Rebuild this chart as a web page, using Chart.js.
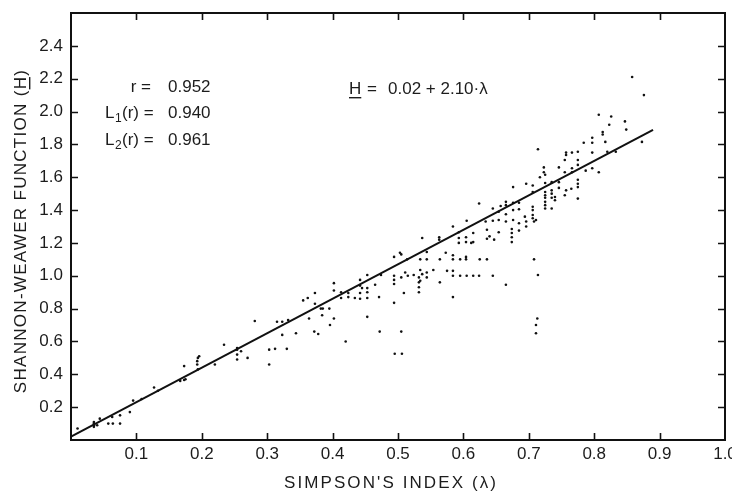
<!DOCTYPE html>
<html><head><meta charset="utf-8">
<script src="https://cdn.jsdelivr.net/npm/chart.js@4"></script>
<style>html,body{margin:0;padding:0;background:#fff}#wrap{width:732px;height:492px}</style>
</head><body><div id="wrap"><canvas id="c" width="732" height="492"></canvas></div>
<script>
// Simpson's index (lambda) and Shannon-Weaver H values
const lambdaValues = [
 0.01,0.035,0.035,0.035,0.035,0.04,0.044,0.057,0.064,0.063,0.075,0.075,0.09,0.095,0.108,0.127,0.133,
 0.167,0.173,0.175,0.173,0.193,0.193,0.194,0.196,0.194,0.22,0.234,0.254,0.254,0.254,0.26,0.254,0.27,
 0.281,0.303,0.303,0.312,0.315,
 0.323,0.332,0.323,0.33,0.344,0.355,0.362,0.373,0.373,0.364,0.372,0.378,0.382,0.385,0.384,0.395,0.396,
 0.402,0.402,0.402,0.413,0.413,0.424,0.424,0.42,0.434,0.442,0.442,0.442,0.442,0.445,0.453,0.453,0.453,0.453,
 0.453,0.465,0.471,0.472,0.474,0.494,0.494,0.494,0.494,0.494,0.503,0.505,0.505,0.495,0.506,0.509,
 0.505,0.511,0.515,0.524,0.532,0.532,0.532,0.532,
 0.514,0.534,0.534,0.534,0.537,0.537,0.544,0.544,0.544,0.544,0.554,0.563,0.563,0.564,0.564,0.573,0.575,
 0.584,0.584,0.584,0.584,0.584,0.584,0.593,0.593,0.593,0.595,0.595,0.604,0.604,0.604,0.604,0.605,0.605,
 0.612,0.615,0.615,0.615,0.624,0.624,0.625,0.636,0.634,0.636,0.636,0.64,0.647,0.645,0.645,0.645,
 0.654,0.654,0.654,0.657,0.665,0.665,0.665,0.665,0.665,0.674,0.674,0.674,0.674,0.676,0.676,0.676,0.676,
 0.685,0.685,0.685,0.685,0.694,0.696,0.696,0.696,
 0.714,0.706,0.706,0.706,0.706,0.706,0.706,0.708,0.711,0.708,0.714,0.713,0.711,0.711,0.717,
 0.723,0.723,0.725,0.725,0.725,0.725,0.725,0.725,0.725,0.725,0.735,0.735,0.735,0.735,0.735,0.74,0.74,
 0.746,0.746,0.746,0.755,0.757,0.757,0.755,0.755,0.757,0.766,0.766,0.766,0.765,
 0.775,0.775,0.775,0.775,0.775,0.775,0.775,0.784,0.787,0.797,0.797,0.797,0.797,0.807,0.807,
 0.813,0.813,0.817,0.82,0.823,0.858,0.876,0.826,0.847,0.849,0.833,0.873
];
const hValues = [
 0.07,0.08,0.09,0.10,0.11,0.09,0.13,0.10,0.10,0.14,0.15,0.10,0.17,0.24,0.25,0.32,0.30,
 0.36,0.365,0.37,0.45,0.48,0.46,0.50,0.51,0.43,0.46,0.58,0.55,0.52,0.49,0.54,0.56,0.50,
 0.725,0.55,0.46,0.555,0.72,
 0.72,0.73,0.64,0.555,0.65,0.85,0.865,0.895,0.83,0.74,0.66,0.645,0.80,0.80,0.76,0.80,0.70,
 0.955,0.91,0.74,0.90,0.865,0.895,0.87,0.60,0.865,0.975,0.94,0.895,0.86,0.925,1.005,0.925,0.90,0.865,
 0.75,0.945,0.87,0.66,1.005,1.115,1.0,0.975,0.95,0.835,1.14,1.13,0.66,0.525,0.525,0.895,
 0.99,1.02,1.0,1.005,0.99,0.96,0.93,0.90,
 1.10,1.10,1.035,0.97,1.23,1.01,1.02,0.99,1.145,1.10,1.035,1.235,1.22,1.10,0.96,1.14,1.03,
 1.30,1.125,1.10,1.03,1.0,0.87,1.265,1.23,1.20,1.0,1.10,1.235,1.205,1.115,1.10,1.0,1.335,
 1.20,1.205,1.26,1.0,1.0,1.44,1.10,1.10,1.33,1.28,1.225,1.24,1.22,1.0,1.41,1.335,
 1.39,1.34,1.265,1.425,1.45,1.43,1.375,1.33,0.945,1.285,1.26,1.235,1.205,1.54,1.445,1.40,1.34,
 1.445,1.405,1.32,1.275,1.36,1.33,1.30,1.56,
 1.77,1.55,1.51,1.42,1.40,1.37,1.35,1.33,1.34,1.10,1.005,0.74,0.70,0.65,1.60,
 1.66,1.63,1.615,1.565,1.51,1.49,1.475,1.45,1.43,1.41,1.57,1.52,1.50,1.475,1.41,1.48,1.46,
 1.535,1.57,1.66,1.705,1.75,1.735,1.63,1.49,1.52,1.75,1.655,1.63,1.53,
 1.755,1.705,1.675,1.585,1.56,1.54,1.47,1.81,1.64,1.84,1.81,1.75,1.655,1.98,1.63,
 1.875,1.86,1.815,1.755,1.92,2.21,2.10,1.97,1.94,1.89,1.755,1.815
];
// fitted line H = 0.02 + 2.10*lambda, end points as drawn
const fitLambda = [0.0, 0.89];
const fitH = [0.02, 1.889];
const xTicks = [0.1,0.2,0.3,0.4,0.5,0.6,0.7,0.8,0.9,1.0];
const yTicks = [0.2,0.4,0.6,0.8,1.0,1.2,1.4,1.6,1.8,2.0,2.2,2.4];
const xTitle = "SIMPSON'S INDEX (\u03BB)";
const yTitle = "SHANNON-WEAWER FUNCTION (H)";
const statLabels = ["r =", "L", "L"];
const statValues = ["0.952", "0.940", "0.961"];
const equationText = "0.02 + 2.10\u00B7\u03BB";

const FONT = '"Liberation Sans", Arial, sans-serif';
const INK = '#1c1c1c';

const decor = {
  id: 'decor',
  afterDraw(chart) {
    const ctx = chart.ctx, ca = chart.chartArea;
    const xs = chart.scales.x, ys = chart.scales.y;
    ctx.save();
    ctx.strokeStyle = '#111';
    ctx.lineWidth = 2;
    ctx.strokeRect(ca.left, ca.top, ca.right - ca.left, ca.bottom - ca.top);
    ctx.lineWidth = 1.6;
    ctx.beginPath();
    xTicks.forEach(v => {
      if (v >= 1.0) return;
      const px = Math.round(xs.getPixelForValue(v)) + 0.5;
      ctx.moveTo(px, ca.bottom); ctx.lineTo(px, ca.bottom - 7);
      ctx.moveTo(px, ca.top); ctx.lineTo(px, ca.top + 7);
    });
    yTicks.forEach(v => {
      const py = Math.round(ys.getPixelForValue(v)) + 0.5;
      ctx.moveTo(ca.left, py); ctx.lineTo(ca.left + 7, py);
      ctx.moveTo(ca.right, py); ctx.lineTo(ca.right - 7, py);
    });
    ctx.stroke();

    ctx.fillStyle = INK;
    // x title
    ctx.font = '17px ' + FONT;
    ctx.letterSpacing = '2.1px';
    ctx.textAlign = 'center';
    ctx.textBaseline = 'middle';
    ctx.fillText(xTitle, 391, 483);
    // y title (rotated)
    ctx.save();
    ctx.translate(21, 231);
    ctx.rotate(-Math.PI / 2);
    ctx.letterSpacing = '1.3px';
    ctx.textAlign = 'left';
    const w = ctx.measureText(yTitle).width;
    const x0 = -w / 2;
    ctx.fillText(yTitle, x0, 0);
    const pre = ctx.measureText(yTitle.slice(0, yTitle.length - 2)).width;
    const hw = ctx.measureText('H').width - 1.3;
    ctx.fillRect(x0 + pre, 8, hw, 1.4);
    ctx.restore();

    // statistics
    ctx.letterSpacing = '0px';
    ctx.font = '17px ' + FONT;
    ctx.textBaseline = 'middle';
    ctx.textAlign = 'right';
    ctx.fillText(statLabels[0], 151, 87);
    ctx.textAlign = 'left';
    const rows = [[113, '1'], [140, '2']];
    rows.forEach(([yy, sub]) => {
      ctx.font = '17px ' + FONT;
      ctx.fillText('L', 105, yy);
      ctx.font = '12px ' + FONT;
      ctx.fillText(sub, 115, yy + 6);
      ctx.font = '17px ' + FONT;
      ctx.fillText('(r) =', 122, yy);
    });
    ctx.fillText(statValues[0], 168, 87);
    ctx.fillText(statValues[1], 168, 113);
    ctx.fillText(statValues[2], 168, 140);
    // equation
    ctx.fillText('H', 349, 89);
    const hW = ctx.measureText('H').width;
    ctx.fillRect(349, 97, hW, 1.4);
    ctx.fillText('=', 367, 89);
    ctx.fillText(equationText, 388, 89);
    ctx.restore();
  }
};

const scatterPts = lambdaValues.map((x, i) => ({x: x, y: hValues[i]}));
const fitPts = fitLambda.map((x, i) => ({x: x, y: fitH[i]}));

new Chart(document.getElementById('c'), {
  type: 'scatter',
  data: {
    datasets: [
      { data: scatterPts, backgroundColor: '#111', borderColor: '#111', pointRadius: 1.3, borderWidth: 0, pointHoverRadius: 1.3 },
      { type: 'line', data: fitPts, borderColor: '#111', borderWidth: 2, pointRadius: 0, fill: false, showLine: true }
    ]
  },
  options: {
    responsive: false,
    animation: false,
    devicePixelRatio: 1,
    events: [],
    layout: { padding: { top: 13, right: 7, left: 0, bottom: 0 } },
    plugins: { legend: { display: false }, tooltip: { enabled: false } },
    scales: {
      x: {
        type: 'linear', min: 0, max: 1.0,
        grid: { display: false, drawTicks: false },
        border: { display: false },
        afterBuildTicks: s => { s.ticks = xTicks.map(v => ({value: v})); },
        afterFit: s => { s.height = 52; s.paddingLeft = 0; s.paddingRight = 0; },
        ticks: { color: INK, font: { family: FONT, size: 17 }, padding: 4, maxRotation: 0,
                 callback: v => Number(v).toFixed(1) }
      },
      y: {
        type: 'linear', min: 0, max: 2.6,
        grid: { display: false, drawTicks: false },
        border: { display: false },
        afterBuildTicks: s => { s.ticks = yTicks.map(v => ({value: v})); },
        afterFit: s => { s.width = 71; s.paddingTop = 0; s.paddingBottom = 0; },
        ticks: { color: INK, font: { family: FONT, size: 17 }, padding: 8,
                 callback: v => Number(v).toFixed(1) }
      }
    }
  },
  plugins: [decor]
});
</script>
</body></html>
